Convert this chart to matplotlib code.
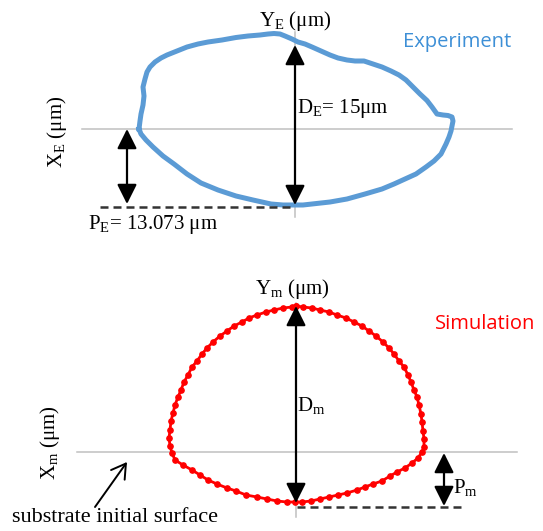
import matplotlib
matplotlib.use("Agg")
import matplotlib.pyplot as plt

plt.rcParams['font.family'] = ['Liberation Serif', 'DejaVu Serif']
plt.rcParams['mathtext.fontset'] = 'custom'
plt.rcParams['mathtext.rm'] = 'Liberation Serif'
plt.rcParams['mathtext.it'] = 'Liberation Serif:italic'

# Experiment outline (relative to the axes crossing, arbitrary units)
exp_x = [-156, -155, -154, -152, -151, -152, -150, -148, -145, -140, -134, -128, -118, -108,
         -97, -87, -73, -59, -47, -35, -27, -21, -15, -10, -3, 3, 10, 17, 26, 35, 43, 52,
         60, 69, 78, 87, 96, 104, 111, 118, 125, 132, 137, 142, 148, 153, 157, 158, 157,
         156, 154, 151, 146, 139, 131, 121, 110, 99, 87, 70, 52, 35, 17, 8, 0, -12, -24,
         -42, -59, -77, -94, -108, -121, -132, -142, -149, -154, -156]
exp_y = [0, 8, 15, 24, 33, 42, 50, 57, 62, 67, 71, 74, 78, 82,
         85, 87, 89, 91.5, 93, 94, 95, 95.5, 95, 93, 90, 87, 85, 82, 78, 74, 71, 69,
         68, 68, 65, 62, 58, 54, 49, 42, 35, 28.5, 22, 15, 14, 13.5, 12, 8, 3,
         -2, -8, -15, -25, -32, -38, -45, -50, -55, -60, -65, -70, -73, -75, -76, -76, -76, -75,
         -71, -67, -61, -54, -45, -35, -27, -18, -11, -5, 0]

# Simulation outline nodes
sim_x = [0, 7, 16, 24, 33, 41, 50, 58, 66, 73, 80, 87, 93, 98, 103, 108, 112, 115, 118,
         121, 123, 125, 126, 127, 128, 128, 126, 122, 116, 109, 101, 94, 86, 77, 69, 61,
         51, 42, 33, 24, 15, 6, -1,
         -9, -19, -29, -39, -50, -60, -69, -79, -88, -96, -104, -113, -121, -124, -126,
         -127, -126, -125, -123, -121, -118, -115, -112, -108, -104, -99, -94, -89, -83,
         -76, -69, -62, -54, -47, -39, -30, -22, -13, -4, 0]
sim_y = [146, 145, 144, 142, 140, 137, 134, 130, 126, 121, 116, 110, 104, 98, 91, 85, 77,
         70, 62, 55, 47, 38, 30, 21, 13, 5, 0, -6, -11, -16, -20, -24, -29, -32, -35, -38,
         -41, -43, -45, -47, -49, -50, -50,
         -50, -49, -47, -45, -43, -39, -36, -32, -28, -23, -18, -13, -8, -1, 6,
         14, 22, 31, 39, 47, 55, 62, 70, 77, 85, 91, 98, 104, 110,
         116, 121, 126, 130, 134, 137, 140, 142, 144, 145, 146]

exp_depth = -76   # bottom of experimental track
sim_depth = -55   # bottom of simulated track

fig = plt.figure(figsize=(5.43, 5.31), dpi=100)
ax1 = fig.add_axes([0, 0, 1, 1])
ax2 = fig.add_axes([0, 0, 1, 1])
ax1.set_xlim(-295, 248)
ax1.set_ylim(-402, 129)
ax2.set_xlim(-296, 247)
ax2.set_ylim(-79, 452)
for ax in (ax1, ax2):
    ax.axis('off')
    ax.patch.set_alpha(0)

gray = '#c0c0c0'
fs = 15
arrow_kw = dict(arrowstyle='<|-|>,head_length=0.6,head_width=0.3', color='black',
                lw=1.6, shrinkA=0, shrinkB=0, mutation_scale=20)

# ---- Experiment ----
ax1.plot([-213, 217], [0, 0], color=gray, lw=1.1)
ax1.plot([0, 0], [97, -88], color=gray, lw=1.1)
ax1.plot(exp_x, exp_y, color='#5b9bd5', lw=3.6, solid_joinstyle='round')
ax1.plot([-195, 0], [exp_depth - 2, exp_depth - 2], color='#333333', lw=1.8,
         linestyle=(0, (3.2, 2.0)))
ax1.annotate('', xy=(0, 84), xytext=(0, exp_depth), arrowprops=arrow_kw)
ax1.annotate('', xy=(-168, 0), xytext=(-168, exp_depth + 1), arrowprops=arrow_kw)
ax1.text(0, 108, r'Y$_\mathrm{E}$ (μm)', fontsize=fs, ha='center', va='center')
ax1.text(-238, -3, r'X$_\mathrm{E}$ (μm)', fontsize=fs, ha='center', va='center', rotation=90)
ax1.text(2, 20, r'D$_\mathrm{E}$= 15μm', fontsize=fs, ha='left', va='center')
ax1.text(-207, -95, r'P$_\mathrm{E}$= 13.073 μm', fontsize=fs, ha='left', va='center')
ax1.text(108, 87, 'Experiment', fontsize=14.5, color='#3d8fd6', ha='left', va='center',
         family=['Open Sans', 'DejaVu Sans'])

# ---- Simulation ----
ax2.plot([-219, 221], [0, 0], color=gray, lw=1.1)
ax2.plot([0, 0], [149, -65], color=gray, lw=1.1)
ax2.plot(sim_x, sim_y, color='red', lw=2.0, marker='o', ms=3.8)
ax2.plot([1, 169], [sim_depth, sim_depth], color='#333333', lw=1.8,
         linestyle=(0, (3.2, 2.0)))
ax2.annotate('', xy=(0, 146), xytext=(0, -51), arrowprops=arrow_kw)
ax2.annotate('', xy=(148, -1), xytext=(148, sim_depth + 1), arrowprops=arrow_kw)
ax2.annotate('', xy=(-169, -10), xytext=(-201, -55),
             arrowprops=dict(arrowstyle='->,head_length=0.5,head_width=0.3', color='black',
                             lw=1.4, shrinkA=0, shrinkB=0, mutation_scale=20))
ax2.text(-4, 163, r'Y$_\mathrm{m}$ (μm)', fontsize=fs, ha='center', va='center')
ax2.text(-246, 9, r'X$_\mathrm{m}$ (μm)', fontsize=fs, ha='center', va='center', rotation=90)
ax2.text(1, 47, r'D$_\mathrm{m}$', fontsize=fs, ha='left', va='center')
ax2.text(157, -35, r'P$_\mathrm{m}$', fontsize=fs, ha='left', va='center')
ax2.text(139, 128, 'Simulation', fontsize=14.5, color='red', ha='left', va='center',
         family=['Open Sans', 'DejaVu Sans'])
ax2.text(-284, -65, 'substrate initial surface', fontsize=16, ha='left', va='center')

fig.savefig('out.png', dpi=100)
